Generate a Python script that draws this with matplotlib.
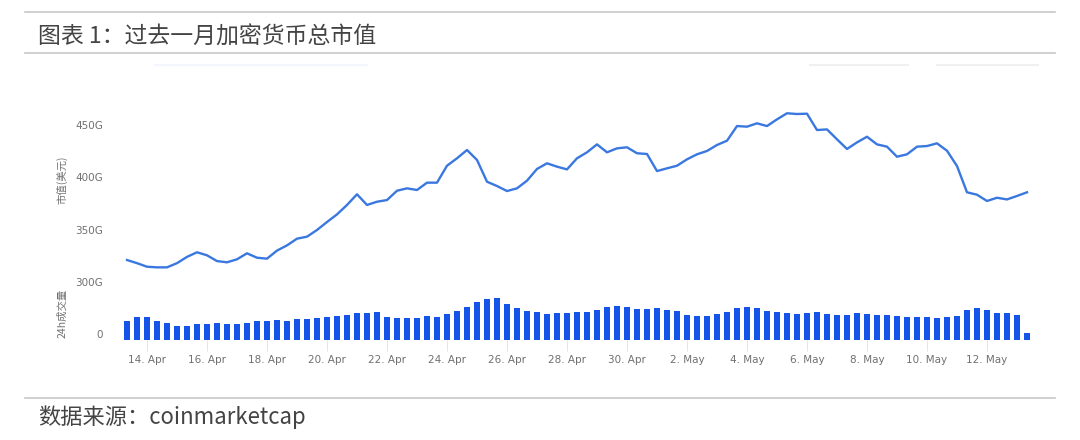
import datetime as dt

import matplotlib
matplotlib.use("Agg")
import matplotlib.pyplot as plt
from matplotlib.lines import Line2D

plt.rcParams["font.family"] = ["Noto Sans CJK SC", "DejaVu Sans"]

# total market cap, in G USD, one point every 8 hours from 13 Apr 08:00
market_cap = [
    321, 318, 314.6, 314, 314, 318, 324, 328.4, 325.5, 320,
    318.8, 321.7, 327.4, 323.2, 322.3, 330, 335, 341.4, 343.3, 349.7,
    357.3, 364.6, 373.6, 383.8, 373.6, 376.7, 378.3, 387.2, 389.5, 387.9,
    394.9, 394.9, 411.1, 418.2, 426.1, 416.6, 395.8, 391.7, 386.9, 389.5,
    396.8, 408, 413.4, 410.2, 407.6, 418.2, 423.9, 431.5, 423.9, 427.7,
    428.7, 423, 422.3, 406, 408.6, 411.1, 417.2, 422, 425.2, 430.9,
    435, 449, 448.4, 451.6, 449, 455.4, 461.2, 460.5, 460.8, 445.2,
    445.8, 436.3, 427.1, 433.4, 438.8, 431.5, 429.3, 419.7, 422, 429.3,
    429.9, 432.5, 425.4, 410.8, 385.7, 383.4, 377.4, 380.5, 378.9, 382.2,
    385.7,
]
# 24h volume (relative, no scale shown on the chart)
volume = [
    18.3, 23, 22.3, 18.3, 16.3, 14, 14, 15.3, 15.3, 16.3,
    15.3, 15.3, 16.3, 18.3, 18.3, 19.3, 18.3, 20.3, 20.3, 21.3,
    22.3, 23.3, 24.3, 26.3, 26.3, 27.3, 23, 21.3, 22, 22,
    23.3, 22.7, 25.3, 28.3, 32.3, 37.7, 40.3, 41.3, 35.7, 31.3,
    28.3, 27.3, 25.3, 26.7, 26.7, 27.3, 27.3, 29.3, 32.3, 33.3,
    32.3, 30.3, 30.3, 31.3, 29.3, 28.3, 24.3, 23.3, 23.3, 25.3,
    27.3, 31.3, 32.3, 31.5, 28.7, 27.7, 26.7, 25.7, 26.7, 27.3,
    25.3, 24.3, 24.3, 26.7, 25.3, 24.3, 24.3, 23.3, 22.7, 22.7,
    22.7, 21.3, 22.7, 23.3, 29.3, 31.3, 29.3, 26.7, 26.7, 24.3,
    7,
]
start = dt.datetime(2018, 4, 13, 8)
times = [start + dt.timedelta(hours=8 * i) for i in range(len(market_cap))]
tick_days = [dt.datetime(2018, 4, 14) + dt.timedelta(days=2 * k) for k in range(15)]
cap_ticks = [300, 350, 400, 450]

title = "图表 1：过去一月加密货币总市值"
source = "数据来源：coinmarketcap"

W, H = 1080, 440
fig = plt.figure(figsize=(W / 100, H / 100), dpi=100)


def box(left, top, right, bottom):
    return [left / W, 1 - bottom / H, (right - left) / W, (bottom - top) / H]


line_color = "#3a78e0"
bar_color = "#1454e8"
grey = "#707070"
tick_font = ["DejaVu Sans"]
xlim = (start - dt.timedelta(hours=5.6), times[-1] + dt.timedelta(hours=6.4))

# upper panel: market cap line, 450G at y=125px, 300G at y=282px
px_per_g = (282 - 125) / 150
ax = fig.add_axes(box(120, 125 - 20 * px_per_g, 1035, 282 + 5 * px_per_g))
ax.plot(times, market_cap, color=line_color, lw=1.7, solid_joinstyle="round")
ax.set_ylim(295, 470)
ax.set_xlim(xlim)
ax.set_yticks(cap_ticks)
ax.set_yticklabels([f"{v}G" for v in cap_ticks], family=tick_font)
ax.tick_params(axis="y", length=0, pad=12, labelsize=7.5, labelcolor=grey)
ax.set_xticks([])
for s in ax.spines.values():
    s.set_visible(False)
ax.set_facecolor("none")

# lower panel: volume bars
ax2 = fig.add_axes(box(120, 295, 1035, 339.5))
ax2.bar(times, volume, width=0.2, color=bar_color, align="center")
ax2.set_ylim(0, 44.5)
ax2.set_xlim(xlim)
ax2.set_yticks([0])
ax2.set_yticklabels(["0"], family=tick_font)
ax2.tick_params(axis="y", length=0, pad=12, labelsize=7.5, labelcolor=grey)
for lab in ax2.get_yticklabels():
    lab.set_verticalalignment("bottom")
ax2.set_xticks(tick_days)
ax2.set_xticklabels([f"{d.day}. {d.strftime('%b')}" for d in tick_days], family=tick_font)
ax2.tick_params(axis="x", length=8, width=0.6, color="#e0e0e0", pad=3,
                labelsize=7.5, labelcolor=grey)
for s in ax2.spines.values():
    s.set_visible(False)
ax2.set_facecolor("none")

fig.text(62 / W, 1 - 180 / H, "市值(美元)", rotation=90, ha="center", va="center",
         fontsize=7.5, color=grey)
fig.text(62 / W, 1 - 313 / H, "24h成交量", rotation=90, ha="center", va="center",
         fontsize=7.5, color=grey)

# header / footer rules and text
for y in (12, 53, 398):
    fig.add_artist(Line2D([25 / W, 1055 / W], [1 - y / H, 1 - y / H],
                          color="#c8c8c8", lw=1.2))
for x0, x1, c in ((155, 367, "#f3f6fc"), (810, 908, "#f0f0f0"), (937, 1038, "#f0f0f0")):
    fig.add_artist(Line2D([x0 / W, x1 / W], [1 - 65 / H, 1 - 65 / H], color=c, lw=1.5))

fig.text(38 / W, 1 - 37 / H, title, ha="left", va="center", fontsize=16.5, color="#444444")
fig.text(38 / W, 1 - 417 / H, source, ha="left", va="center", fontsize=16, color="#444444")

fig.savefig("out.png", dpi=100)
